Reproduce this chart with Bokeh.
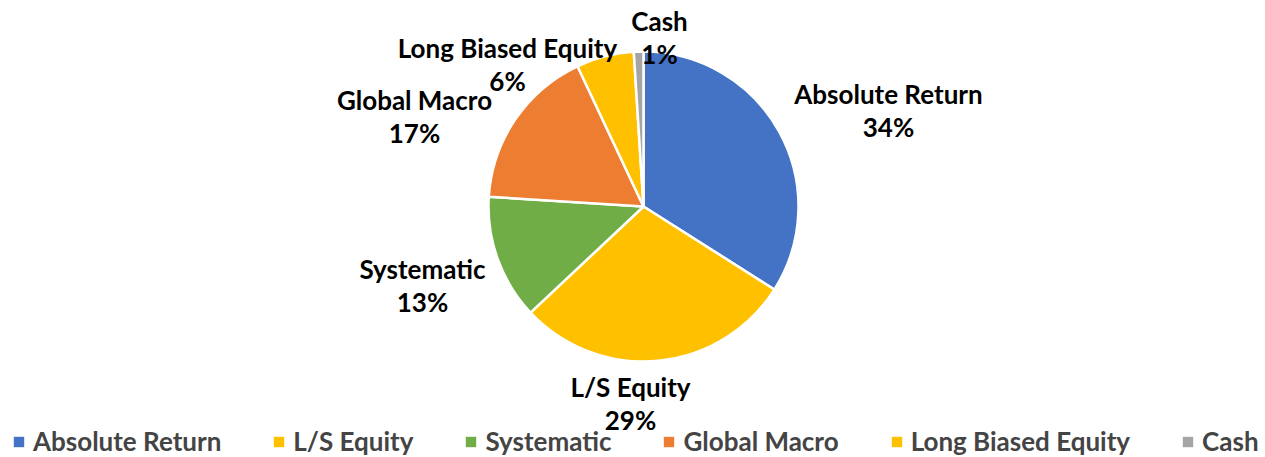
import math
from bokeh.plotting import figure
from bokeh.models import Range1d, ColumnDataSource, Legend, LegendItem
from bokeh.core.properties import value
from bokeh.embed import file_html
from bokeh.resources import INLINE

categories = ["Absolute Return", "L/S Equity", "Systematic", "Global Macro", "Long Biased Equity", "Cash"]
shares = [34, 29, 13, 17, 6, 1]
colors = ["#4472C4", "#FFC000", "#70AD47", "#ED7D31", "#FFC000", "#A5A5A5"]

W, H = 1265, 457
CX, CY, R = 643, H - 206, 155
# label centres (pixel layout, y from top)
label_pos = [(888, 93), (630, 386), (422, 268), (414, 99), (507, 47), (659, 20)]
LINE_GAP = 33
FS = "26px"

total = sum(shares)
starts, ends = [], []
cum = 0.0
for s in shares:
    starts.append(math.pi / 2 - 2 * math.pi * cum / total)
    cum += s
    ends.append(math.pi / 2 - 2 * math.pi * cum / total)

p = figure(width=W, height=H, output_backend="svg", toolbar_location=None,
           x_range=Range1d(0, W), y_range=Range1d(0, H), min_border=0,
           outline_line_color=None)
p.axis.visible = False
p.grid.visible = False

for i in range(len(categories)):
    p.wedge(x=CX, y=CY, radius=R, start_angle=starts[i], end_angle=ends[i],
            direction="clock", fill_color=colors[i], line_color="white", line_width=2.5)

font = value("Lato")
names_x = [lp[0] for lp in label_pos]
names_y = [H - lp[1] for lp in label_pos]
pct_y = [H - lp[1] - LINE_GAP for lp in label_pos]
p.text(x=names_x, y=names_y, text=categories, text_font=font, text_font_style="bold",
       text_font_size=FS, text_align="center", text_baseline="middle", text_color="black")
p.text(x=names_x, y=pct_y, text=[f"{v}%" for v in shares], text_font=font, text_font_style="bold",
       text_font_size=FS, text_align="center", text_baseline="middle", text_color="black")

legend_renderers = []
for i, c in enumerate(categories):
    lr = p.quad(left=[-100], right=[-90], bottom=[-100], top=[-90], fill_color=colors[i], line_color=None)
    legend_renderers.append(lr)

legend = Legend(items=[LegendItem(label=c, renderers=[legend_renderers[i]]) for i, c in enumerate(categories)],
                orientation="horizontal", location=(12, 0), spacing=51, label_standoff=8,
                glyph_width=13, glyph_height=13, padding=0, margin=0,
                label_text_font="Lato", label_text_font_style="bold", label_text_font_size=FS,
                label_height=28, border_line_color=None, background_fill_alpha=0)
p.add_layout(legend, "center")

open("out.html", "w").write(file_html(p, INLINE))
